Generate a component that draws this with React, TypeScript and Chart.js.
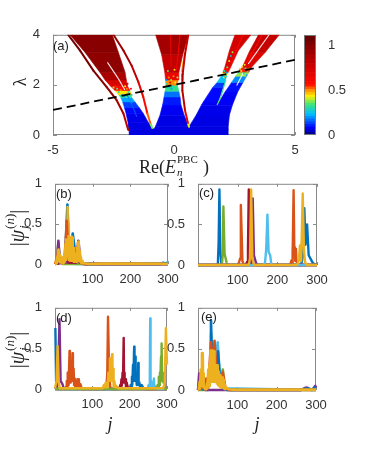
import React, { useEffect, useRef } from "react";
import { Chart, registerables } from "chart.js";

Chart.register(...registerables);

// ---------- colour scale of the spectrum ----------
const cmapStops: [number, number[]][] = [
  [0, [0, 0, 130]],
  [0.08, [0, 0, 255]],
  [0.23, [0, 190, 255]],
  [0.34, [60, 230, 120]],
  [0.43, [255, 240, 0]],
  [0.5, [255, 140, 0]],
  [0.56, [255, 10, 0]],
  [0.82, [190, 0, 0]],
  [1.12, [95, 0, 0]],
];
function cmap(v: number) {
  for (let i = 1; i < cmapStops.length; i++) {
    const [b, cb] = cmapStops[i];
    const [a, ca] = cmapStops[i - 1];
    if (v <= b) {
      const t = Math.max(0, (v - a) / (b - a));
      return `rgb(${ca.map((c, k) => Math.round(c + (cb[k] - c) * t)).join(",")})`;
    }
  }
  return "rgb(95,0,0)";
}

// ---------- panel (a): [lambda, left edge, right edge, IPR] ----------
const baseRows = [
  [0, -1.85, 2.24, 0.06],
  [0.24, -1.86, 2.24, 0.06],
];
const leftLobeRows = [
  [0.22, -1.86, -0.85, 0.06],
  [0.5, -1.9, -1.06, 0.065],
  [0.86, -1.98, -1.27, 0.07],
  [1.1, -2.05, -1.44, 0.1],
  [1.32, -2.12, -1.61, 0.16],
  [1.5, -2.2, -1.75, 0.26],
  [1.62, -2.3, -1.78, 0.38],
  [1.78, -2.44, -1.82, 0.5],
  [1.95, -2.62, -1.92, 0.62],
  [2.2, -2.85, -1.97, 0.82],
  [2.5, -3.06, -2.02, 0.94],
  [3.3, -3.68, -2.3, 1.0],
  [4, -4.3, -2.55, 0.98],
];
const centerLobeRows = [
  [0.22, -0.85, 0.7, 0.06],
  [0.33, -0.77, 0.62, 0.06],
  [0.79, -0.58, 0.42, 0.065],
  [1.2, -0.47, 0.29, 0.08],
  [1.52, -0.41, 0.25, 0.12],
  [1.75, -0.37, 0.2, 0.22],
  [1.98, -0.33, 0.14, 0.42],
  [2.2, -0.35, 0.17, 0.58],
  [2.5, -0.38, 0.2, 0.72],
  [3.2, -0.51, 0.36, 0.88],
  [4, -0.76, 0.6, 0.92],
];
const rightBaseRows = [
  [0.22, 0.7, 2.24, 0.06],
  [0.33, 0.62, 2.24, 0.06],
  [0.8, 0.92, 2.29, 0.065],
  [1.19, 1.13, 2.41, 0.07],
];
const lobeARows = [
  [1.19, 1.13, 1.76, 0.07],
  [1.32, 1.21, 1.83, 0.08],
  [1.9, 1.6, 2.02, 0.09],
  [2.1, 1.78, 2.1, 0.16],
  [2.38, 1.97, 2.18, 0.32],
  [2.5, 2.02, 2.24, 0.5],
  [2.7, 2.1, 2.34, 0.62],
  [3.37, 2.29, 2.66, 0.8],
  [4, 2.52, 3.18, 0.68],
];
const lobeBRows = [
  [1.19, 1.78, 2.41, 0.07],
  [1.72, 2.11, 2.63, 0.08],
  [2.1, 2.38, 2.85, 0.1],
  [2.35, 2.55, 3.0, 0.28],
  [2.51, 2.66, 3.1, 0.48],
  [2.7, 2.82, 3.2, 0.62],
  [3.3, 3.1, 3.77, 0.78],
  [4, 3.49, 4.35, 0.8],
];
const lobeRows = [baseRows, leftLobeRows, centerLobeRows, rightBaseRows, lobeARows, lobeBRows];

// thin curves: [energy, lambda, IPR]
const outerCurve = [
  [-4.37, 4, 1.05], [-3.88, 3.37, 1.05], [-3.33, 2.57, 1.02], [-2.78, 1.91, 0.98],
  [-2.37, 1.39, 0.92], [-2.09, 0.86, 0.85], [-1.89, 0.2, 0.8],
];
const innerCurve = [
  [-2.5, 4, 0.95], [-2.09, 3.37, 0.92], [-1.75, 2.77, 0.88], [-1.47, 2.11, 0.75],
  [-1.27, 1.52, 0.6], [-1.1, 0.86, 0.56], [-0.96, 0.42, 0.48], [-0.9, 0.28, 0.25],
];
const rightCurve = [
  [0.59, 4, 0.8], [0.455, 3.23, 0.75], [0.36, 2.44, 0.85], [0.345, 1.78, 0.9],
  [0.455, 0.99, 0.75], [0.59, 0.42, 0.55], [0.62, 0.33, 0.3],
];
const curveList = [outerCurve, innerCurve, rightCurve];

// slits and streaks: [energy, lambda, IPR or -1 for white]
const leftSlit = [[-2.75, 2.9, -1], [-2.3, 2.25, -1], [-2.03, 1.8, -1]];
const blueSlit = [[-1.96, 1.65, 0.22], [-1.75, 1.25, 0.17], [-1.54, 0.73, 0.12]];
const centerGold = [[0.44, 3.3, 0.46], [0.3, 2.5, 0.48]];
const sliverA = [[1.78, 1.2, 0.34], [1.95, 1.55, 0.36], [2.14, 2.2, 0.28]];
const slitB = [[2.59, 1.98, -1], [2.87, 2.5, -1]];
const slitTop = [[3.07, 2.84, -1], [3.93, 4, -1]];
const streakA = [[2.35, 2.85, 0.56], [2.85, 4, 0.6]];
const streakB = [[2.95, 2.8, 0.56], [3.65, 4, 0.6]];
const streakC = [[-0.12, 2.7, 0.6], [-0.15, 4, 0.75]];
const streakD = [[0.1, 2.6, 0.56], [0.25, 4, 0.7]];
const streakList = [leftSlit, blueSlit, centerGold, sliverA, slitB, slitTop, streakA, streakB, streakC, streakD];

// mixed states near the mobility edges: [energy, lambda, IPR]
const mixedPoints = [
  [-2.42, 1.95, 0.55], [-2.35, 1.85, 0.34], [-2.28, 1.72, 0.3], [-2.2, 1.8, 0.5], [-2.15, 1.6, 0.22],
  [-2.5, 1.9, 0.38], [-2.3, 1.98, 0.65], [-2.12, 1.72, 0.42], [-2.05, 1.55, 0.2], [-2.02, 1.95, 0.43],
  [-1.95, 1.85, 0.5], [-1.88, 1.72, 0.3], [-1.82, 1.65, 0.48], [-1.78, 1.85, 0.62], [-1.92, 2.05, 0.7],
  [-1.75, 1.6, 0.3],
  [-0.3, 2.05, 0.3], [-0.2, 1.9, 0.24], [-0.12, 2.2, 0.38], [-0.05, 1.95, 0.28], [0.05, 2.1, 0.42],
  [-0.22, 2.3, 0.5], [0.1, 1.98, 0.34], [-0.02, 2.35, 0.5], [0.02, 2.6, 0.44], [-0.25, 2.55, 0.36],
  [-0.32, 2.2, 0.2], [0.14, 2.3, 0.38], [-0.1, 1.85, 0.2], [-0.16, 2.1, 0.65], [0.08, 2.45, 0.62],
  [2.0, 2.4, 0.25], [2.08, 2.55, 0.32], [2.15, 2.35, 0.3], [2.2, 2.7, 0.35], [2.28, 2.95, 0.42],
  [2.35, 3.15, 0.25], [2.06, 2.3, 0.45], [2.42, 3.3, 0.38], [2.18, 2.5, 0.2],
  [2.68, 2.5, 0.3], [2.78, 2.55, 0.42], [2.88, 2.48, 0.25], [2.95, 2.65, 0.32], [3.04, 2.52, 0.3],
  [2.82, 2.72, 0.45], [3.0, 2.4, 0.22], [2.72, 2.62, 0.48], [2.92, 2.8, 0.44], [3.08, 2.62, 0.5],
];
const dashedLineE = [-5, 5];
const dashedLineL = [1, 3];
const colorbarLevels = [
  0, 0.03, 0.06, 0.09, 0.12, 0.15, 0.18, 0.21, 0.24, 0.27, 0.3, 0.33, 0.36, 0.39, 0.42, 0.45, 0.48,
  0.51, 0.54, 0.57, 0.6, 0.65, 0.7, 0.75, 0.8, 0.85, 0.9, 0.95, 1.0, 1.05, 1.12,
];

// ---------- eigenstate profiles: [j, |psi|] ----------
const matlab = ["#0072BD", "#D95319", "#EDB120", "#7E2F8E", "#77AC30", "#4DBEEE", "#A2142F"];
const [BLUE, ORANGE, YELLOW, PURPLE, GREEN, SKY, CRIMSON] = matlab;

const bSky = [[0, 0], [34, 0.1], [40, 0.32], [46, 0.2], [55, 0], [280, 0], [288, 0.02], [292, 0], [298, 0.02], [300, 0.01]];
const bGreen = [[0, 0], [5, 0.05], [9, 0.26], [13, 0.04], [20, 0], [300, 0]];
const bPurple = [[0, 0], [5, 0.04], [9, 0.29], [13, 0.02], [56, 0.02], [62, 0.29], [68, 0.03], [75, 0], [300, 0]];
const bCrimson = [[0, 0], [25, 0.02], [30, 0.08], [36, 0.02], [56, 0.02], [60, 0.06], [66, 0.02], [80, 0], [300, 0]];
const bBlue = [[0, 0], [5, 0.02], [9, 0.05], [14, 0.02], [20, 0.02], [27, 0.1], [33, 0.74], [38, 0.1], [43, 0.2], [47, 0.38], [52, 0.2], [58, 0.05], [64, 0.1], [70, 0.02], [80, 0], [280, 0], [300, 0.01]];
const bOrange = [[0, 0], [4, 0.05], [8, 0.11], [14, 0.03], [18, 0.07], [25, 0.08], [33, 0.54], [40, 0.1], [47, 0.2], [53, 0.05], [60, 0.1], [70, 0.01], [80, 0], [300, 0]];
const bYellow = [[0, 0], [2, 0.03], [3, 0.01], [5, 0.08], [6, 0.02], [8, 0.17], [9, 0.05], [10, 0.18], [11, 0.04], [13, 0.12], [14, 0.02], [16, 0.09], [17, 0.02], [19, 0.05], [20, 0.01], [22, 0.06], [23, 0.01], [25, 0.12], [26, 0.03], [28, 0.25], [29, 0.05], [31, 0.5], [32, 0.1], [33, 0.71], [34, 0.12], [35, 0.5], [36, 0.05], [37, 0.25], [38, 0.06], [39, 0.3], [40, 0.04], [41, 0.33], [42, 0.05], [44, 0.34], [45, 0.04], [46, 0.33], [47, 0.05], [49, 0.2], [50, 0.03], [52, 0.13], [53, 0.03], [55, 0.12], [56, 0.03], [58, 0.2], [59, 0.04], [61, 0.27], [62, 0.05], [63, 0.28], [64, 0.04], [66, 0.16], [67, 0.03], [69, 0.08], [70, 0.01], [72, 0.04], [73, 0.01], [76, 0.01], [90, 0], [130, 0.005], [300, 0.003]];
const bOrangeCap = [[29, 0.32], [31, 0.54], [33, 0.36]];

const cBlue = [[0, 0], [50, 0], [52, 0.28], [54, 0.93], [56, 0.2], [59, 0], [260, 0], [264, 0.1], [268, 0.7], [271, 0.25], [275, 0.5], [279, 0.12], [290, 0.02], [300, 0]];
const cGreen = [[0, 0], [60, 0], [62, 0.1], [64, 0.72], [67, 0.14], [72, 0.03], [74, 0], [300, 0]];
const cOrange = [[0, 0], [100, 0], [104, 0.04], [106, 0.08], [108, 0.74], [110, 0.4], [112, 0.05], [116, 0], [232, 0], [236, 0.06], [237, 0.02], [238, 0.2], [239, 0.1], [241, 0.92], [243, 0.1], [244, 0.22], [245, 0.05], [247, 0.2], [248, 0.05], [250, 0.03], [255, 0], [300, 0]];
const cCrimson = [[0, 0], [120, 0], [124, 0.04], [126, 0.2], [128, 0.93], [131, 0.2], [135, 0.03], [137, 0], [300, 0]];
const cPurple = [[0, 0], [130, 0], [135, 0.1], [138, 0.82], [141, 0.12], [146, 0.03], [150, 0], [300, 0]];
const cSky = [[0, 0], [165, 0], [169, 0.03], [172, 0.2], [175, 0.62], [178, 0.16], [182, 0.12], [185, 0], [300, 0]];
const cYellow = [[0, 0], [128, 0], [131, 0.08], [134, 0.93], [137, 0.08], [141, 0], [250, 0], [254, 0.05], [257, 0.24], [260, 0.05], [264, 0.88], [267, 0.2], [270, 0.03], [275, 0], [300, 0]];

const dBlue = [[1, 0.75], [3, 0.1], [6, 0], [200, 0], [203, 0.05], [204, 0.02], [206, 0.15], [207, 0.05], [209, 0.3], [210, 0.1], [212, 0.52], [213, 0.1], [215, 0.4], [216, 0.1], [218, 0.1], [219, 0.05], [221, 0.2], [222, 0.08], [223, 0.32], [224, 0.05], [226, 0.08], [228, 0.02], [232, 0.05], [238, 0], [300, 0]];
const dPurple = [[0, 0], [5, 0.03], [8, 0.08], [12, 0.86], [15, 0.1], [20, 0.06], [24, 0], [300, 0]];
const dOrange = [[0, 0], [28, 0], [30, 0.03], [31, 0.02], [32, 0.1], [33, 0.03], [34, 0.2], [35, 0.05], [36, 0.2], [37, 0.08], [39, 0.47], [40, 0.1], [41, 0.2], [42, 0.08], [44, 0.22], [45, 0.1], [47, 0.44], [48, 0.1], [50, 0.25], [51, 0.05], [53, 0.13], [54, 0.03], [56, 0.06], [57, 0.01], [60, 0.12], [62, 0.02], [64, 0.12], [65, 0.01], [68, 0.06], [72, 0], [135, 0], [138, 0.06], [140, 0.18], [142, 0.89], [145, 0.2], [148, 0.02], [152, 0], [300, 0]];
const dCrimson = [[0, 0], [172, 0], [175, 0.05], [176, 0.02], [178, 0.12], [179, 0.04], [181, 0.2], [182, 0.08], [184, 0.63], [185, 0.1], [186, 0.2], [187, 0.08], [189, 0.12], [190, 0.03], [192, 0.08], [195, 0.02], [198, 0], [300, 0]];
const dSky = [[0, 0], [248, 0], [251, 0.05], [252, 0.02], [254, 0.2], [255, 0.87], [256, 0.1], [258, 0.1], [260, 0.03], [262, 0.07], [263, 0.02], [265, 0.13], [266, 0.02], [269, 0.03], [272, 0], [300, 0]];
const dGreen = [[0, 0], [272, 0], [275, 0.05], [276, 0.02], [278, 0.15], [279, 0.05], [281, 0.2], [282, 0.1], [284, 0.4], [285, 0.1], [286, 0.56], [287, 0.1], [289, 0.2], [290, 0.08], [292, 0.12], [294, 0], [296, 0], [300, 0]];
const dYellow = [[0, 0.01], [4, 0.1], [7, 0.53], [10, 0.08], [13, 0.01], [128, 0.01], [131, 0.05], [133, 0.02], [135, 0.07], [137, 0.02], [139, 0.08], [141, 0.02], [143, 0.2], [145, 0.1], [147, 0.38], [148, 0.1], [150, 0.25], [151, 0.1], [153, 0.43], [154, 0.1], [156, 0.25], [157, 0.03], [159, 0.1], [161, 0.02], [164, 0.04], [168, 0.01], [290, 0.01], [294, 0.08], [297, 0.75], [300, 0.3]];

const eSky = [[0, 0], [12, 0.02], [17, 0.1], [24, 0.03], [30, 0.1], [42, 0.2], [50, 0.58], [56, 0.15], [65, 0.02], [300, 0]];
const eGreen = [[0, 0], [25, 0], [31, 0.3], [33, 0.68], [36, 0.2], [58, 0.05], [63, 0.25], [68, 0.03], [80, 0], [300, 0]];
const ePurple = [[0, 0], [3, 0.2], [7, 0.06], [12, 0.02], [20, 0], [262, 0], [270, 0.02], [277, 0.03], [285, 0.01], [292, 0.01], [298, 0.05], [300, 0.03]];
const eBlue = [[0, 0], [3, 0.05], [12, 0.01], [25, 0.05], [31, 0.3], [33, 0.85], [37, 0.15], [48, 0.2], [51, 0.47], [56, 0.12], [64, 0.02], [75, 0], [260, 0], [280, 0.02], [290, 0], [299, 0.04]];
const eOrange = [[0, 0], [8, 0.02], [17, 0.05], [21, 0.14], [26, 0.04], [33, 0.58], [37, 0.2], [42, 0.6], [47, 0.22], [58, 0.1], [63, 0.22], [70, 0.02], [80, 0], [300, 0]];
const eYellow = [[0, 0.01], [2, 0.02], [4, 0.1], [5, 0.02], [7, 0.25], [8, 0.05], [10, 0.45], [11, 0.1], [12, 0.45], [13, 0.15], [14, 0.2], [15, 0.03], [17, 0.04], [18, 0.01], [20, 0.03], [21, 0.01], [23, 0.08], [24, 0.02], [26, 0.25], [27, 0.05], [29, 0.3], [30, 0.05], [32, 0.48], [33, 0.1], [35, 0.35], [36, 0.1], [38, 0.48], [39, 0.15], [41, 0.47], [42, 0.1], [44, 0.3], [45, 0.1], [47, 0.3], [48, 0.08], [50, 0.3], [51, 0.06], [53, 0.22], [54, 0.05], [56, 0.18], [57, 0.03], [59, 0.12], [60, 0.03], [62, 0.15], [63, 0.03], [65, 0.12], [66, 0.02], [68, 0.07], [69, 0.01], [72, 0.03], [78, 0.01], [90, 0.005], [300, 0.005]];

const profileTicks = [100, 200, 300];
const panelYTicks = [0, 0.5, 1];

type Series = [string, number[][]];
const panelB: Series[] = [[SKY, bSky], [GREEN, bGreen], [PURPLE, bPurple], [CRIMSON, bCrimson], [BLUE, bBlue], [ORANGE, bOrange], [YELLOW, bYellow], [ORANGE, bOrangeCap]];
const panelC: Series[] = [[BLUE, cBlue], [GREEN, cGreen], [ORANGE, cOrange], [CRIMSON, cCrimson], [PURPLE, cPurple], [SKY, cSky], [YELLOW, cYellow]];
const panelD: Series[] = [[BLUE, dBlue], [PURPLE, dPurple], [ORANGE, dOrange], [CRIMSON, dCrimson], [SKY, dSky], [GREEN, dGreen], [YELLOW, dYellow]];
const panelE: Series[] = [[SKY, eSky], [GREEN, eGreen], [PURPLE, ePurple], [BLUE, eBlue], [ORANGE, eOrange], [YELLOW, eYellow]];

// ---------- layout ----------
const TICK_FONT = { family: "'Liberation Sans', Arial, sans-serif", size: 13 };
const TICK_COLOR = "#333333";
const FRAME = "#8a8a8a";
const ML = 34; const MT = 12; const MR = 16; const MB = 28;

const framePlugin = {
  id: "frame",
  beforeDatasetsDraw(chart: any) {
    const { ctx, chartArea: a, scales } = chart;
    ctx.save();
    ctx.strokeStyle = FRAME;
    ctx.lineWidth = 1;
    ctx.strokeRect(a.left + 0.5, a.top + 0.5, a.right - a.left - 1, a.bottom - a.top - 1);
    ctx.beginPath();
    for (const t of scales.x.ticks) {
      const p = Math.round(scales.x.getPixelForValue(t.value)) + 0.5;
      ctx.moveTo(p, a.top); ctx.lineTo(p, a.top + 3);
      ctx.moveTo(p, a.bottom); ctx.lineTo(p, a.bottom - 3);
    }
    for (const t of scales.y.ticks) {
      const p = Math.round(scales.y.getPixelForValue(t.value)) + 0.5;
      ctx.moveTo(a.left, p); ctx.lineTo(a.left + 4, p);
      ctx.moveTo(a.right, p); ctx.lineTo(a.right - 4, p);
    }
    ctx.stroke();
    ctx.restore();
  },
};

function axes(xMin: number, xMax: number, yMax: number, xTicks: number[], yTicks: number[]) {
  const common = { grid: { display: false }, border: { display: false } };
  return {
    x: {
      ...common, type: "linear", min: xMin, max: xMax,
      afterBuildTicks: (s: any) => { s.ticks = xTicks.map((value) => ({ value })); },
      afterFit: (s: any) => { s.height = MB; },
      ticks: { font: TICK_FONT, color: TICK_COLOR, padding: 0, maxRotation: 0, autoSkip: false, callback: (v: any) => String(v) },
    },
    y: {
      ...common, type: "linear", min: 0, max: yMax,
      afterBuildTicks: (s: any) => { s.ticks = yTicks.map((value) => ({ value })); },
      afterFit: (s: any) => { s.width = ML; },
      ticks: { font: TICK_FONT, color: TICK_COLOR, padding: 5, autoSkip: false, callback: (v: any) => String(v) },
    },
  };
}

const baseOpts = (scales: any) => ({
  animation: false,
  responsive: false,
  events: [],
  layout: { padding: { left: 0, top: MT, right: MR, bottom: 0 } },
  plugins: { legend: { display: false }, tooltip: { enabled: false } },
  scales,
});

function spectrumDatasets() {
  const ds: any[] = [];
  for (const rows of lobeRows) {
    for (let i = 0; i + 1 < rows.length; i++) {
      const [l0, a0, b0, c0] = rows[i];
      const [l1, a1, b1, c1] = rows[i + 1];
      const colour = cmap((c0 + c1) / 2);
      ds.push({
        type: "scatter", showLine: true, tension: 0, pointRadius: 0,
        data: [{ x: a0, y: l0 }, { x: b0, y: l0 }, { x: b1, y: l1 }, { x: a1, y: l1 }, { x: a0, y: l0 }],
        fill: "shape", backgroundColor: colour, borderColor: colour, borderWidth: 0.6,
      });
    }
  }
  for (const s of streakList) {
    for (let i = 0; i + 1 < s.length; i++) {
      const white = s[i][2] < 0;
      ds.push({
        type: "scatter", showLine: true, pointRadius: 0, fill: false,
        data: [{ x: s[i][0], y: s[i][1] }, { x: s[i + 1][0], y: s[i + 1][1] }],
        borderColor: white ? "rgba(255,255,255,0.9)" : cmap((s[i][2] + s[i + 1][2]) / 2), borderWidth: 1.1,
      });
    }
  }
  for (const s of curveList) {
    for (let i = 0; i + 1 < s.length; i++) {
      ds.push({
        type: "scatter", showLine: true, pointRadius: 0, fill: false,
        data: [{ x: s[i][0], y: s[i][1] }, { x: s[i + 1][0], y: s[i + 1][1] }],
        borderColor: cmap((s[i][2] + s[i + 1][2]) / 2), borderWidth: 2, borderCapStyle: "round",
      });
    }
  }
  ds.push({
    type: "scatter", showLine: false,
    data: mixedPoints.map((p) => ({ x: p[0], y: p[1] })),
    pointRadius: 1, pointBorderWidth: 0,
    pointBackgroundColor: mixedPoints.map((p) => cmap(p[2])),
  });
  ds.push({
    type: "scatter", showLine: true, pointRadius: 0, fill: false,
    data: dashedLineE.map((x, i) => ({ x, y: dashedLineL[i] })),
    borderColor: "#000000", borderWidth: 1.8, borderDash: [9, 5],
  });
  ds.forEach((d, i) => { d.order = -i; });
  return ds;
}

const profileDatasets = (series: Series[], width: number) =>
  series.map(([colour, pts], i) => ({
    type: "line", tension: 0, pointRadius: 0, fill: false, clip: 2, order: -i,
    borderColor: colour, borderWidth: width, borderJoinStyle: "round",
    data: pts.map(([x, y]) => ({ x, y })),
  }));

const colorbarDatasets = () =>
  colorbarLevels.slice(0, -1).map((lo, i) => {
    const hi = colorbarLevels[i + 1];
    const c = cmap((lo + hi) / 2);
    return { type: "bar", data: [[lo, hi]], backgroundColor: c, borderColor: c, borderWidth: 0, barPercentage: 1, categoryPercentage: 1, grouped: false };
  });

function App() {
  const a = useRef<HTMLCanvasElement>(null);
  const cb = useRef<HTMLCanvasElement>(null);
  const b = useRef<HTMLCanvasElement>(null);
  const c = useRef<HTMLCanvasElement>(null);
  const d = useRef<HTMLCanvasElement>(null);
  const e = useRef<HTMLCanvasElement>(null);

  useEffect(() => {
    const charts: Chart[] = [];
    charts.push(new Chart(a.current!, {
      type: "scatter",
      data: { datasets: spectrumDatasets() },
      options: baseOpts(axes(-5, 5, 4, [-5, 0, 5], [0, 2, 4])),
      plugins: [framePlugin],
    } as any));
    charts.push(new Chart(cb.current!, {
      type: "bar",
      data: { labels: [""], datasets: colorbarDatasets() },
      options: {
        ...baseOpts({
          x: { stacked: true, grid: { display: false }, border: { display: false }, ticks: { display: false }, afterFit: (s: any) => { s.height = 0; } },
          y: {
            position: "right", min: 0, max: 1.12, grid: { display: false }, border: { display: false },
            afterBuildTicks: (s: any) => { s.ticks = [0, 0.5, 1].map((value) => ({ value })); },
            ticks: { font: TICK_FONT, color: TICK_COLOR, padding: 4, callback: (v: any) => String(v) },
            afterFit: (s: any) => { s.width = 30; },
          },
        }),
        layout: { padding: { left: 0, top: 12, right: 0, bottom: 12 } },
      },
      plugins: [{
        id: "cbFrame",
        afterDatasetsDraw(chart: any) {
          const { ctx, chartArea: r } = chart;
          ctx.save();
          ctx.strokeStyle = "#777777";
          ctx.strokeRect(r.left + 0.5, r.top + 0.5, r.right - r.left - 1, r.bottom - r.top - 1);
          ctx.restore();
        },
      }],
    } as any));
    const panels: [any, Series[], number][] = [[b, panelB, 2.6], [c, panelC, 2.4], [d, panelD, 2.4], [e, panelE, 2.6]];
    for (const [ref, series, width] of panels) {
      charts.push(new Chart(ref.current!, {
        type: "line",
        data: { datasets: profileDatasets(series, width) },
        options: baseOpts(axes(0, 300, 1, profileTicks, panelYTicks)),
        plugins: [framePlugin],
      } as any));
    }
    return () => charts.forEach((ch) => ch.destroy());
  }, []);

  const place = (L: number, T: number, R: number, B: number) => ({
    style: { position: "absolute" as const, left: L - ML, top: T - MT },
    width: R - L + ML + MR,
    height: B - T + MT + MB,
  });
  const serif = "'Liberation Serif', 'DejaVu Serif', serif";
  const txt = (x: number, y: number, size: number, extra: any = {}) => ({
    position: "absolute" as const, left: x, top: y, fontFamily: serif, fontSize: size, color: "#222",
    whiteSpace: "nowrap" as const, lineHeight: 1, ...extra,
  });
  const panelLabel = (x: number, y: number, s: string) => (
    <div style={{ position: "absolute", left: x, top: y, fontFamily: "'Liberation Sans', sans-serif", fontSize: 13, color: "#222", lineHeight: 1 }}>{s}</div>
  );
  const psi = (cx: number, cy: number) => (
    <div style={txt(cx, cy, 20, { transform: "translate(-50%,-50%) rotate(-90deg)", display: "flex", alignItems: "center" })}>
      <span>|</span><i>ψ</i>
      <span style={{ display: "inline-flex", flexDirection: "column", fontSize: 13, alignItems: "flex-start", lineHeight: "14px", marginLeft: 1 }}>
        <span>(<i>n</i>)</span><i>j</i>
      </span>
      <span>|</span>
    </div>
  );

  return (
    <div style={{ position: "absolute", left: 0, top: 0, width: 365, height: 465, background: "#fff", overflow: "hidden", filter: "blur(0.35px)" }}>
      <canvas ref={a} {...place(53, 34, 295, 135)} />
      <canvas ref={cb} style={{ position: "absolute", left: 304, top: 23 }} width={42} height={124} />
      <canvas ref={b} {...place(55, 183, 168, 264)} />
      <canvas ref={c} {...place(198, 183, 317, 265)} />
      <canvas ref={d} {...place(55, 307, 167, 389)} />
      <canvas ref={e} {...place(198, 307, 316, 390)} />

      {panelLabel(53, 39, "(a)")}
      {panelLabel(56, 187, "(b)")}
      {panelLabel(199, 186, "(c)")}
      {panelLabel(56, 311, "(d)")}
      {panelLabel(201, 310, "(e)")}

      <div style={txt(20, 82, 18, { transform: "translate(-50%,-50%) rotate(-90deg)" })}>λ</div>
      <div style={txt(174, 167, 18, { transform: "translate(-50%,-50%)" })}>
        Re(<i>E</i><span style={{ position: "relative", display: "inline-block", width: 27, height: 10 }}>
          <span style={{ position: "absolute", left: 1, top: -9, fontSize: 11 }}>PBC</span>
          <i style={{ position: "absolute", left: 1, top: 4, fontSize: 11 }}>n</i>
        </span>)
      </div>
      {psi(17, 228)}
      {psi(17, 350)}
      <div style={txt(110, 424, 18, { transform: "translate(-50%,-50%)", fontStyle: "italic" })}>j</div>
      <div style={txt(257, 424, 18, { transform: "translate(-50%,-50%)", fontStyle: "italic" })}>j</div>
    </div>
  );
}

export default App;
